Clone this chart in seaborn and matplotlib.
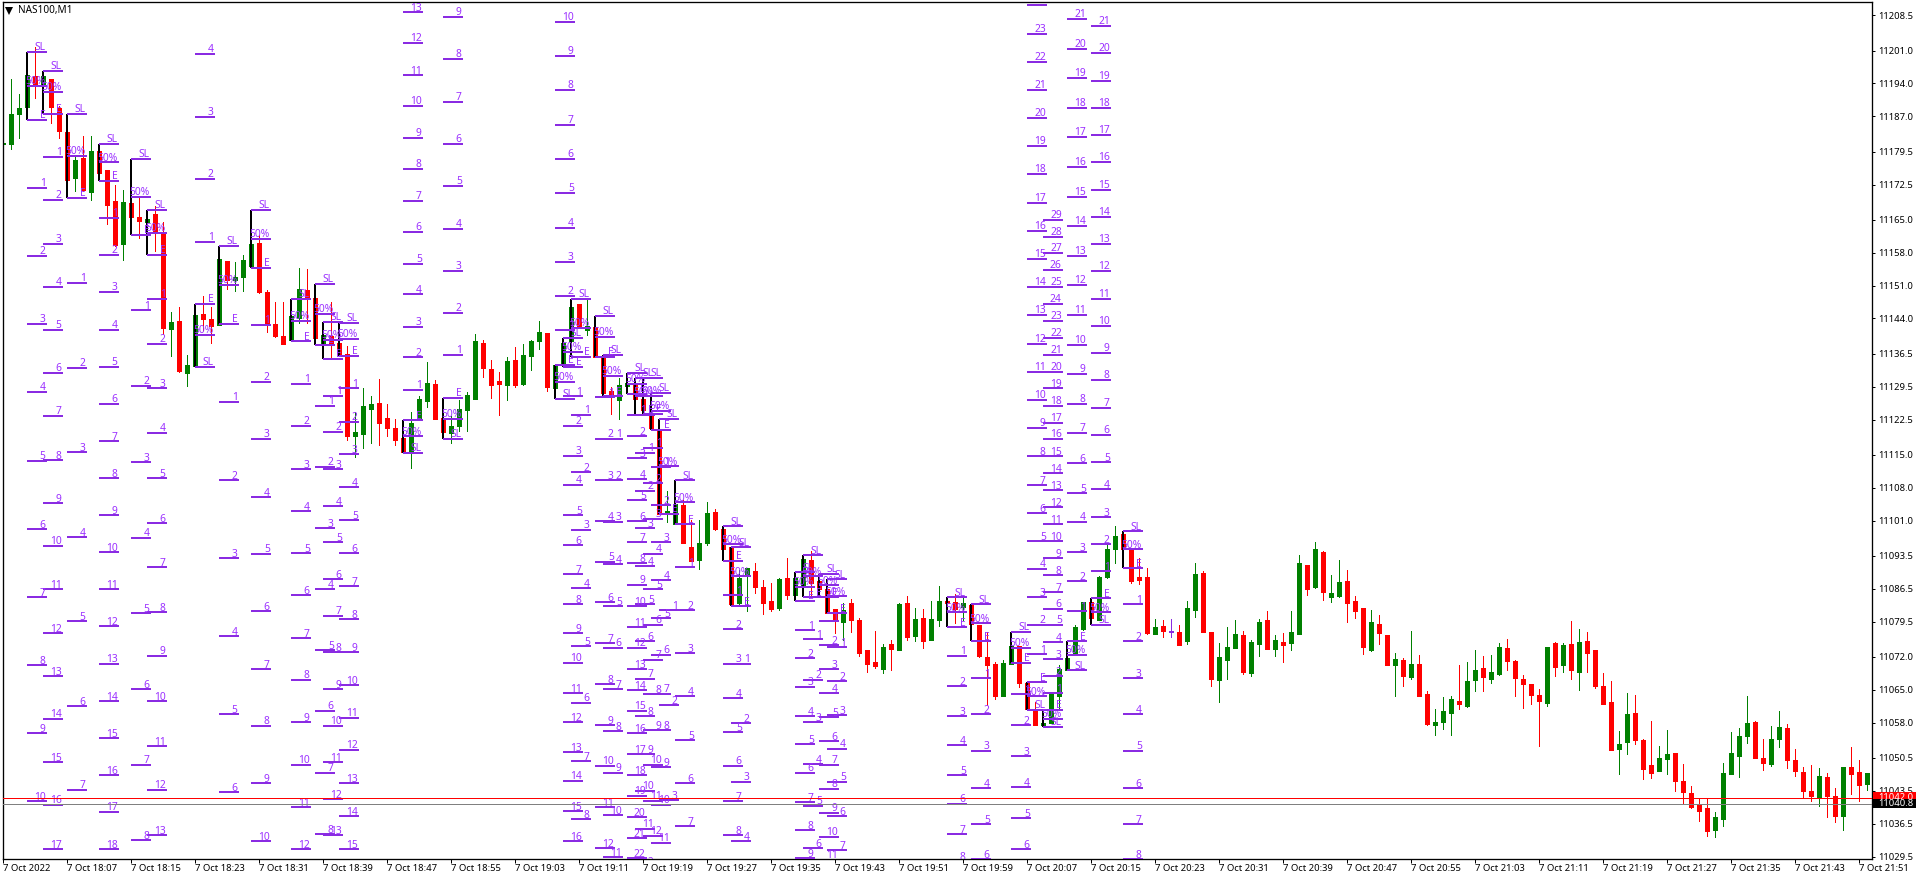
import matplotlib
matplotlib.use("Agg")
import matplotlib.pyplot as plt
from matplotlib.patches import Rectangle
import pandas as pd
import seaborn as sns

# ---------- candles (prices) ----------
highs = [
11183.8,11194.9,11191.8,11195.8,11201.7,11195.6,11195.0,11189.2,11183.7,11178.6,
11182.9,11182.9,11179.7,11175.6,11172.4,11171.4,11168.6,11169.7,11165.2,11168.0,
11164.6,11145.4,11146.5,11136.3,11144.8,11148.8,11146.5,11156.7,11156.3,11156.1,
11157.6,11159.9,11161.8,11150.1,11147.4,11147.4,11144.6,11154.8,11154.6,11148.4,
11140.5,11147.6,11138.8,11138.2,11124.2,11129.3,11127.6,11131.2,11125.7,11122.7,
11118.6,11124.2,11127.6,11134.8,11131.0,11122.9,11123.3,11126.7,11128.4,11140.8,
11139.5,11135.2,11132.7,11135.7,11138.0,11138.6,11139.5,11143.5,11141.0,11134.0,
11138.8,11146.5,11147.1,11148.2,11142.2,11136.1,11129.5,11131.4,11130.3,11129.9,
11126.9,11123.5,11120.3,11107.3,11104.5,11105.3,11101.1,11101.1,11104.9,11103.4,
11099.2,11095.3,11090.4,11090.9,11091.9,11088.3,11087.7,11088.7,11093.0,11088.7,
11092.8,11094.5,11088.1,11086.4,11082.2,11083.4,11084.3,11080.2,11073.4,11077.5,
11074.7,11075.6,11083.4,11084.9,11082.4,11082.2,11083.9,11087.0,11083.9,11085.3,
11084.8,11083.0,11078.8,11077.3,11071.0,11071.3,11074.3,11074.3,11066.4,11062.4,
11057.9,11064.1,11070.2,11071.7,11078.8,11083.6,11083.6,11089.2,11095.8,11099.8,
11098.1,11094.9,11093.0,11090.9,11080.0,11079.8,11080.0,11078.8,11083.9,11091.9,
11090.2,11077.3,11074.9,11078.3,11079.8,11077.5,11075.6,11080.0,11081.7,11076.6,
11077.0,11081.7,11093.6,11091.5,11096.4,11094.5,11089.4,11092.6,11090.4,11084.9,
11082.4,11081.9,11080.9,11076.6,11072.8,11071.7,11077.5,11072.4,11064.7,11060.9,
11063.4,11063.6,11070.2,11070.9,11073.4,11072.2,11072.4,11074.9,11075.8,11071.3,
11068.1,11066.2,11065.1,11074.1,11075.1,11074.9,11079.6,11077.9,11077.3,11073.4,
11068.5,11066.8,11056.2,11064.3,11063.9,11054.5,11058.3,11053.0,11056.4,11051.5,
11049.2,11044.5,11042.0,11042.0,11039.0,11049.4,11056.0,11056.8,11063.6,11058.3,
11054.5,11057.3,11060.5,11057.7,11052.4,11048.5,11049.0,11048.3,11047.3,11044.1,
11048.5,11052.8,11050.0,11047.3]
body_tops = [
11181.4,11187.5,11188.8,11195.8,11195.6,11195.6,11195.0,11188.8,11183.7,11177.7,
11178.2,11179.7,11179.7,11175.6,11169.0,11168.8,11168.6,11165.6,11165.2,11166.3,
11162.5,11143.3,11143.5,11134.2,11144.8,11145.0,11143.9,11156.7,11156.3,11152.9,
11156.5,11159.9,11160.1,11149.7,11142.9,11140.3,11144.6,11150.3,11150.1,11148.4,
11140.5,11140.3,11138.8,11136.5,11119.9,11125.4,11125.7,11126.1,11122.9,11120.8,
11118.6,11121.8,11126.9,11130.3,11130.1,11122.9,11121.2,11124.8,11127.8,11139.3,
11138.8,11133.3,11130.8,11135.0,11135.2,11136.3,11139.3,11141.2,11141.0,11134.0,
11138.8,11146.5,11147.1,11142.5,11142.2,11136.1,11128.6,11129.9,11130.3,11129.9,
11126.9,11123.5,11120.3,11103.0,11104.5,11104.3,11095.3,11096.2,11102.6,11102.8,
11099.2,11095.3,11088.7,11090.9,11090.2,11086.8,11083.9,11088.5,11088.7,11088.7,
11092.8,11092.6,11088.1,11086.4,11082.2,11081.9,11083.4,11079.8,11073.4,11070.9,
11074.1,11074.7,11083.2,11083.4,11080.0,11080.2,11080.0,11083.9,11083.9,11083.6,
11083.4,11083.0,11078.8,11071.9,11070.5,11070.7,11074.3,11074.3,11066.4,11060.7,
11057.9,11064.1,11069.4,11071.7,11078.3,11083.6,11083.6,11089.0,11094.9,11097.7,
11098.1,11094.7,11089.0,11089.0,11078.3,11078.5,11077.5,11077.3,11082.4,11089.6,
11089.8,11077.3,11071.9,11074.1,11076.8,11076.6,11075.1,11079.4,11079.8,11075.6,
11075.1,11077.3,11091.9,11091.5,11094.9,11094.3,11085.6,11087.9,11088.1,11083.9,
11082.4,11079.4,11079.0,11076.6,11071.5,11071.3,11070.5,11070.5,11064.1,11058.1,
11060.5,11063.0,11062.6,11066.8,11069.2,11069.6,11068.8,11074.1,11073.9,11071.1,
11067.3,11066.2,11063.9,11074.1,11074.9,11074.5,11074.7,11075.1,11075.3,11073.4,
11065.8,11062.4,11053.4,11059.8,11060.0,11054.3,11049.0,11050.5,11051.3,11051.5,
11045.6,11043.0,11040.5,11039.8,11037.9,11047.3,11051.5,11055.1,11057.9,11058.1,
11050.5,11054.5,11057.1,11056.8,11050.0,11047.5,11043.4,11046.6,11046.4,11042.4,
11048.5,11048.5,11047.5,11047.3]
body_bottoms = [
11181.2,11181.2,11187.5,11189.0,11193.9,11193.5,11189.0,11183.9,11173.5,11173.9,
11171.4,11171.0,11175.0,11168.2,11159.7,11159.9,11165.6,11164.8,11164.6,11162.5,
11142.0,11141.8,11132.9,11132.5,11133.8,11143.9,11142.5,11142.7,11152.2,11152.2,
11152.9,11155.2,11149.7,11142.9,11140.3,11138.6,11139.5,11144.2,11148.2,11139.9,
11138.8,11138.8,11136.5,11118.9,11118.9,11119.5,11124.8,11121.8,11120.8,11118.2,
11115.5,11115.5,11122.3,11126.5,11122.7,11119.9,11119.7,11121.2,11124.6,11126.9,
11133.5,11129.9,11130.1,11129.9,11129.9,11130.1,11136.1,11139.3,11129.5,11129.1,
11134.2,11139.3,11142.0,11141.6,11135.9,11128.2,11127.4,11126.7,11129.7,11126.9,
11124.6,11120.6,11102.3,11102.4,11100.2,11096.2,11092.4,11092.6,11096.2,11099.2,
11094.9,11083.2,11083.4,11089.4,11086.8,11083.4,11082.2,11082.4,11085.1,11085.1,
11086.8,11087.7,11086.4,11081.3,11079.6,11079.4,11079.8,11072.8,11070.5,11070.0,
11069.4,11073.6,11073.4,11076.2,11076.4,11075.3,11075.6,11079.8,11083.4,11082.2,
11082.6,11079.1,11072.2,11070.2,11063.6,11063.6,11070.5,11066.4,11060.9,11057.5,
11057.5,11057.9,11063.6,11069.2,11072.4,11077.9,11080.2,11079.8,11089.0,11094.9,
11094.9,11088.1,11088.3,11077.0,11076.8,11077.5,11077.3,11074.5,11075.3,11081.9,
11077.3,11067.3,11067.1,11071.3,11073.9,11068.8,11068.5,11074.7,11073.6,11073.6,
11074.5,11074.9,11076.8,11086.4,11086.8,11085.8,11084.7,11084.9,11083.4,11081.7,
11074.1,11073.4,11077.0,11070.2,11070.2,11067.9,11067.7,11063.6,11057.7,11057.5,
11058.1,11060.0,11061.9,11061.5,11067.1,11067.7,11067.3,11068.3,11071.1,11067.5,
11066.2,11063.9,11062.6,11062.2,11069.8,11070.2,11069.2,11068.8,11072.8,11065.8,
11061.9,11052.2,11052.4,11053.9,11054.3,11048.1,11047.3,11047.7,11050.2,11045.6,
11043.2,11040.0,11039.2,11034.9,11035.1,11037.5,11047.1,11050.9,11055.1,11050.5,
11049.4,11049.2,11054.5,11050.0,11047.7,11043.4,11042.4,11042.2,11042.4,11038.1,
11038.1,11047.1,11044.7,11044.9]
lows = [
11176.7,11180.1,11182.5,11189.0,11191.0,11193.5,11185.6,11182.4,11173.5,11171.2,
11171.2,11169.3,11175.0,11164.2,11159.5,11156.5,11165.6,11161.2,11158.6,11158.4,
11140.8,11136.1,11132.7,11129.7,11133.8,11141.6,11138.8,11142.7,11150.3,11149.9,
11149.9,11155.2,11149.5,11141.2,11140.1,11138.6,11139.5,11143.1,11143.1,11139.9,
11138.8,11135.7,11136.5,11118.2,11114.5,11116.4,11117.5,11117.1,11118.9,11117.1,
11115.5,11112.2,11122.3,11125.2,11122.7,11119.9,11117.6,11120.1,11120.1,11126.9,
11131.6,11127.1,11123.5,11126.7,11129.5,11129.9,11133.1,11137.6,11128.6,11129.1,
11134.2,11139.3,11142.0,11140.5,11135.9,11128.2,11123.7,11122.7,11129.7,11126.9,
11124.6,11120.6,11102.3,11100.7,11100.2,11096.2,11092.4,11090.7,11095.8,11099.0,
11094.9,11083.2,11083.0,11081.7,11085.6,11081.1,11081.7,11081.9,11084.3,11085.1,
11086.8,11085.1,11086.4,11081.3,11077.0,11075.6,11077.3,11072.2,11068.8,11069.6,
11068.5,11069.2,11073.4,11075.6,11075.3,11073.9,11075.6,11078.5,11083.4,11079.2,
11079.8,11079.1,11071.9,11061.7,11063.0,11063.6,11070.5,11065.6,11060.9,11057.5,
11057.5,11057.9,11060.7,11069.2,11072.4,11077.7,11080.2,11079.8,11088.7,11091.9,
11094.9,11087.7,11087.5,11076.8,11076.8,11076.2,11076.2,11074.5,11074.7,11080.5,
11077.3,11065.8,11062.4,11067.3,11073.9,11068.3,11067.9,11072.2,11073.6,11072.2,
11070.9,11073.4,11076.8,11085.1,11086.6,11084.1,11083.6,11084.7,11079.4,11080.2,
11072.6,11073.2,11074.7,11070.2,11063.6,11065.8,11067.3,11063.6,11057.5,11055.4,
11056.6,11055.4,11060.9,11061.3,11064.7,11064.7,11066.4,11068.1,11069.2,11063.6,
11061.1,11061.9,11053.0,11061.5,11067.9,11068.8,11067.3,11064.9,11068.8,11065.4,
11061.9,11052.2,11047.1,11051.3,11053.4,11046.0,11046.2,11047.7,11047.1,11043.4,
11040.9,11039.8,11037.1,11033.9,11033.7,11036.0,11047.1,11046.4,11053.7,11050.5,
11047.9,11048.8,11052.8,11048.3,11046.6,11042.2,11041.3,11040.3,11037.9,11036.8,
11035.1,11042.8,11041.3,11043.7]
moves = ("ggggrgrrrg" "rgrrrgrrgr" "rgrggrrgrg" "ggrrrrggrr" "grrrgggrrr"
         "rgggrrgggg" "rrrgrgggrg" "ggrgrrrggr" "rrrggrrggr" "rrggrrrgrg"
         "grrrrgrrrr" "grgrgrggrr" "grrrrggrrr" "ggggggrggg" "rrrrgrdrgg"
         "rrgggrggrg" "rggrgrggrr" "rgrrgrgrrg" "ggrggrggrr" "rrrgrgrgrr"
         "rrggrrrggr" "rrrrgggggr" "rggrrrrgrr" "grrg")

# ---------- trade setups: first candle, SL, 50%, E, numbered targets ----------
setup_a = (3, 11200.8, 11193.5, 11186.3, [11171.8,11157.3,11142.9,11128.4,11113.7,11099.2,11084.7,11070.2,11055.8,11041.3])
setup_b = (5, 11196.7, 11192.2, 11187.6, [11178.4,11169.3,11159.9,11150.8,11141.6,11132.5,11123.3,11113.8,11104.7,11095.6,11086.4,11077.0,11067.9,11058.8,11049.6,11040.5,11031.1])
setup_c = (8, 11187.6, 11178.6, 11169.7, [11151.6,11133.5,11115.5,11097.5,11079.6,11061.5,11043.7])
setup_d = (12, 11181.2, 11177.2, 11173.3, [11165.4,11157.6,11149.7,11141.6,11133.7,11125.9,11117.9,11110.0,11102.1,11094.3,11086.4,11078.5,11070.5,11062.6,11054.7,11046.8,11039.0,11031.1])
setup_e = (16, 11178.0, 11169.9, 11161.8, [11145.7,11129.7,11113.4,11097.3,11081.3,11065.1,11049.0,11033.0])
setup_f = (18, 11167.1, 11162.2, 11157.6, [11148.2,11138.6,11129.1,11119.7,11110.0,11100.4,11091.1,11081.5,11072.2,11062.6,11053.0,11043.7,11034.1])
setup_g = (24, 11133.7, 11140.5, 11147.1, [11160.3,11173.7,11186.9,11200.3])
setup_h = (27, 11159.5, 11151.2, 11142.9, [11126.3,11109.6,11093.0,11076.4,11059.8,11043.2])
setup_i = (31, 11167.1, 11161.0, 11154.8, [11142.7,11130.5,11118.4,11106.0,11093.9,11081.7,11069.4,11057.3,11045.1,11032.8])
setup_j = (36, 11148.2, 11143.5, 11139.1, [11130.1,11121.2,11111.9,11103.0,11094.1,11085.1,11076.0,11067.1,11058.1,11049.0,11040.0,11031.1])
setup_k = (39, 11151.4, 11145.0, 11138.4, [11125.4,11112.4,11099.4,11086.4,11073.4,11060.5,11047.3,11034.3])
setup_l = (40, 11143.3, 11139.5, 11135.4, [11127.6,11119.9,11111.9,11104.1,11096.4,11088.5,11080.7,11073.0,11065.1,11057.3,11049.6,11041.7,11034.1])
setup_m = (42, 11143.1, 11139.7, 11136.1, [11129.1,11122.0,11115.1,11108.1,11101.1,11094.1,11087.0,11080.0,11073.0,11066.0,11059.0,11052.2,11045.1,11038.1,11031.1])
setup_n = (50, 11115.4, 11118.9, 11122.3, [11128.8,11135.7,11142.2,11149.1,11155.6,11162.5,11169.0,11175.9,11182.4,11189.3,11195.8,11202.7,11209.2])
setup_o = (55, 11118.4, 11122.7, 11127.1, [11136.3,11145.2,11154.2,11163.1,11172.2,11181.2,11190.1,11199.3,11208.2])
setup_p = (69, 11126.9, 11130.5, 11134.2, [11141.6,11148.8,11156.1,11163.3,11170.7,11178.0,11185.2,11192.7,11199.9,11207.1])
setup_q = (70, 11139.9, 11136.9, 11133.7, [11127.4,11121.2,11114.8,11108.6,11102.1,11095.8,11089.6,11083.2,11077.0,11070.7,11064.3,11058.1,11051.7,11045.6,11039.2,11032.8])
setup_r = (71, 11148.2, 11142.0, 11135.9, [11123.5,11111.3,11099.0,11086.6,11074.3,11062.2,11049.8,11037.5])
setup_s = (74, 11144.6, 11140.1, 11135.9, [11127.2,11118.4,11109.6,11100.9,11092.2,11083.6,11074.9,11066.2,11057.5,11048.8,11040.0,11031.3])
setup_t = (75, 11136.3, 11131.8, 11127.4, [11118.4,11109.6,11100.7,11091.7,11082.8,11073.9,11065.1,11056.2,11047.3,11038.3,11029.4])
setup_u = (78, 11132.5, 11130.1, 11128.0, [11123.5,11118.9,11114.3,11109.8,11105.3,11100.9,11096.4,11091.9,11087.3,11082.8,11078.3,11073.9,11069.4,11064.9,11060.5,11055.8,11051.3,11046.8,11042.4,11037.9,11033.4,11029.2])
setup_v = (79, 11131.4, 11127.4, 11123.5, [11115.4,11107.3,11099.4,11091.3,11083.2,11075.3,11067.3,11059.4,11051.3,11043.5,11035.4,11027.5])
setup_w = (80, 11131.4, 11127.6, 11123.7, [11116.5,11108.9,11101.4,11093.9,11086.4,11078.8,11071.4,11064.0,11056.4,11049.0,11041.4,11033.9])
setup_x = (81, 11128.2, 11124.4, 11120.3, [11112.4,11104.3,11096.4,11088.3,11080.2,11072.4,11064.2,11056.4,11048.5,11040.5,11032.5])
setup_y = (82, 11122.7, 11112.6, 11102.4, [11081.9,11061.7,11041.5])
setup_z = (84, 11109.6, 11104.9, 11100.2, [11091.1,11081.9,11072.8,11063.6,11054.3,11045.1,11036.0])
setup_aa = (90, 11099.8, 11096.0, 11092.4, [11085.1,11077.9,11070.5,11063.2,11056.0,11048.8,11041.3,11034.1])
setup_ab = (91, 11095.3, 11089.2, 11082.8, [11070.5,11057.9,11045.4,11032.8])
setup_ac = (99, 11090.0, 11086.9, 11083.9, [11077.7,11071.7,11065.6,11059.4,11053.4,11047.3,11041.1,11035.1,11029.2])
setup_ad = (100, 11093.6, 11089.2, 11084.7, [11075.8,11067.1,11058.1,11049.2,11040.3,11031.3])
setup_ae = (102, 11089.7, 11087.2, 11084.7, [11079.6,11074.5,11069.4,11064.3,11059.2,11054.1,11049.0,11043.9,11038.8,11033.7,11028.8])
setup_af = (103, 11088.5, 11084.9, 11081.3, [11074.1,11066.8,11059.6,11052.4,11045.4,11038.1,11030.9])
setup_ag = (118, 11084.7, 11081.5, 11078.3, [11072.2,11065.8,11059.4,11053.2,11046.8,11040.7,11034.3,11028.4])
setup_ah = (121, 11083.2, 11079.2, 11075.3, [11067.5,11059.8,11052.0,11044.1,11036.4,11028.9])
setup_ai = (126, 11077.3, 11073.9, 11070.7, [11064.1,11057.5,11050.9,11044.3,11037.7,11031.1])
setup_aj = (128, 11060.7, 11063.6, 11066.6, [11072.6,11078.8,11084.7,11090.7,11096.6,11102.6,11108.5,11114.7,11120.8,11126.7,11132.7,11138.6,11144.8,11150.8,11156.7,11162.7,11168.6,11174.8,11180.7,11186.7,11192.7,11198.6,11204.6,11210.7])
setup_ak = (130, 11057.1, 11058.8, 11060.7, [11064.3,11067.9,11071.5,11075.1,11078.8,11082.2,11085.8,11089.4,11093.0,11096.6,11100.2,11103.8,11107.5,11111.1,11114.7,11118.4,11121.8,11125.4,11129.1,11132.7,11136.3,11139.9,11143.5,11147.1,11150.8,11154.4,11158.0,11161.4,11165.0])
setup_al = (133, 11069.2, 11072.4, 11075.3, [11081.7,11088.1,11094.3,11100.7,11106.8,11113.2,11119.7,11125.9,11132.2,11138.4,11144.8,11151.2,11157.3,11163.7,11169.9,11176.3,11182.7,11188.8,11195.2,11201.4,11207.8])
setup_am = (136, 11078.8, 11081.5, 11084.5, [11090.2,11096.0,11101.7,11107.7,11113.4,11119.3,11125.0,11131.0,11136.7,11142.5,11148.2,11154.2,11159.9,11165.6,11171.4,11177.3,11183.1,11188.8,11194.6,11200.5,11206.3])
setup_an = (140, 11098.7, 11094.9, 11090.9, [11083.2,11075.3,11067.5,11059.8,11052.0,11044.1,11036.4,11028.9])
setups = [setup_a, setup_b, setup_c, setup_d, setup_e, setup_f, setup_g, setup_h, setup_i,
          setup_j, setup_k, setup_l, setup_m, setup_n, setup_o, setup_p, setup_q, setup_r,
          setup_s, setup_t, setup_u, setup_v, setup_w, setup_x, setup_y, setup_z, setup_aa,
          setup_ab, setup_ac, setup_ad, setup_ae, setup_af, setup_ag, setup_ah, setup_ai,
          setup_aj, setup_ak, setup_al, setup_am, setup_an]
# a level so near the top border that the chart shows its line without a number
unlabelled_levels = [11210.7]

# ---------- axes labels ----------
price_ticks = [11208.5,11201.0,11194.0,11187.0,11179.5,11172.5,11165.0,11158.0,11151.0,11144.0,
               11136.5,11129.5,11122.5,11115.0,11108.0,11101.0,11093.5,11086.5,11079.5,11072.0,
               11065.0,11058.0,11050.5,11043.5,11036.5,11029.5]
time_labels = ["7 Oct 2022","7 Oct 18:07","7 Oct 18:15","7 Oct 18:23","7 Oct 18:31","7 Oct 18:39",
               "7 Oct 18:47","7 Oct 18:55","7 Oct 19:03","7 Oct 19:11","7 Oct 19:19","7 Oct 19:27",
               "7 Oct 19:35","7 Oct 19:43","7 Oct 19:51","7 Oct 19:59","7 Oct 20:07","7 Oct 20:15",
               "7 Oct 20:23","7 Oct 20:31","7 Oct 20:39","7 Oct 20:47","7 Oct 20:55","7 Oct 21:03",
               "7 Oct 21:11","7 Oct 21:19","7 Oct 21:27","7 Oct 21:35","7 Oct 21:43","7 Oct 21:51"]
ask_price = 11042.0
bid_price = 11040.8
chart_title = "NAS100,M1"

# ---------- style ----------
W, H = 1918, 880
PX = 0.72
GREEN, RED, DOJI = "#008000", "#FF0000", "#8A2BE2"
LEVEL, LABEL = "#8A2BE2", "#9B30FF"
FONT = "Noto Sans"
sns.set_theme(style="white", rc={"axes.edgecolor": "black", "axes.linewidth": 0.95,
                                 "font.family": FONT})

fig = plt.figure(figsize=(W / 100, H / 100), dpi=100, facecolor="white")
ax = fig.add_axes([2.7 / W, 1 - 859.3 / H, (1872.3 - 2.7) / W, (859.3 - 2.3) / H])
palette = {"g": GREEN, "r": RED, "d": DOJI}

wicks = pd.DataFrame({"i": list(range(len(highs))) * 2, "price": highs + lows, "move": list(moves) * 2})
bodies = pd.DataFrame({"i": list(range(len(highs))) * 2, "price": body_tops + body_bottoms, "move": list(moves) * 2})
sns.lineplot(data=wicks, x="i", y="price", units="i", hue="move", palette=palette, estimator=None,
             sort=False, legend=False, ax=ax, lw=1.0 * PX, zorder=2, solid_capstyle="butt", antialiased=False)
sns.lineplot(data=bodies, x="i", y="price", units="i", hue="move", palette=palette, estimator=None,
             sort=False, legend=False, ax=ax, lw=5.0 * PX, zorder=2, solid_capstyle="butt", antialiased=False)

LEVEL_LEN = 2.42
BAR_SHIFT = -0.08
bar_rows, level_rows, label_rows = [], [], []
uid = 0
for start, sl, mid, entry, targets in setups:
    bar_rows += [(uid, start + BAR_SHIFT, sl), (uid, start + BAR_SHIFT, entry)]
    names = ["SL", "50%", "E"] + [str(n + 1) for n in range(len(targets))]
    for name, price in zip(names, [sl, mid, entry] + targets):
        uid += 1
        level_rows += [(uid, start, price), (uid, start + LEVEL_LEN, price)]
        if price not in unlabelled_levels:
            label_rows.append((name, start + LEVEL_LEN, price))
    uid += 1
bars = pd.DataFrame(bar_rows, columns=["id", "x", "price"])
levels = pd.DataFrame(level_rows, columns=["id", "x", "price"])

sns.lineplot(data=bars, x="x", y="price", units="id", estimator=None, sort=False, color="black",
             ax=ax, lw=2.0 * PX, zorder=3, solid_capstyle="butt", antialiased=False)
sns.lineplot(data=levels, x="x", y="price", units="id", estimator=None, sort=False, color=LEVEL,
             ax=ax, lw=2.0 * PX, zorder=4, solid_capstyle="butt", antialiased=False)

for name, x, price in label_rows:
    ax.annotate(name, xy=(x, price), xytext=(-1, 1.5), textcoords="offset pixels", ha="right",
                va="baseline", color=LABEL, fontsize=7.4, family=FONT, annotation_clip=False,
                clip_on=True, zorder=5)

ax.axhline(ask_price, color=RED, lw=1.0 * PX, zorder=6, antialiased=False)
ax.axhline(bid_price, color="#808080", lw=1.0 * PX, zorder=6, antialiased=False)

ax.set_xlim(-0.075, 233.6)
ax.set_ylim(11028.93, 11211.27)
ax.set_xlabel("")
ax.set_ylabel("")
for side in ["left", "right", "top", "bottom"]:
    ax.spines[side].set_visible(True)
    ax.spines[side].set_color("black")

ax.yaxis.tick_right()
ax.set_yticks(price_ticks)
ax.set_yticklabels([f"{p:.1f}" for p in price_ticks])
ax.set_xticks(list(range(0, 8 * len(time_labels), 8)))
ax.set_xticklabels(time_labels, ha="left")
ax.tick_params(axis="y", which="major", right=True, left=False, length=2.2, width=0.72, pad=2.2,
               labelsize=6.8, labelcolor="black", color="black")
ax.tick_params(axis="x", which="major", bottom=True, length=2.9, width=0.72, pad=0.8,
               labelsize=6.8, labelcolor="black", color="black")
for t in ax.get_xticklabels() + ax.get_yticklabels():
    t.set_family(FONT)

# current price tags on the right scale
ytrans = ax.get_yaxis_transform()
tag_w = 43 / 1869.6
ax.add_patch(Rectangle((1.0003, ask_price - 1.27), tag_w, 2.54, transform=ytrans, clip_on=False,
                       fc=RED, ec="none", zorder=7))
ax.annotate(f"{ask_price:.1f}", xy=(1, ask_price), xycoords=ytrans, xytext=(6, 0), textcoords="offset pixels",
            va="center", ha="left", color="white", fontsize=6.8, family=FONT, annotation_clip=False, zorder=8)
ax.add_patch(Rectangle((1.0003, bid_price - 1.05), tag_w, 2.1, transform=ytrans, clip_on=False,
                       fc="black", ec="none", zorder=9))
ax.annotate(f"{bid_price:.1f}", xy=(1, bid_price), xycoords=ytrans, xytext=(6, 0), textcoords="offset pixels",
            va="center", ha="left", color="white", fontsize=6.8, family=FONT, annotation_clip=False, zorder=10)

# chart title with its drop-down triangle
ax.plot([6.6 / 1869.6], [1 - 8.7 / 857], marker="v", ms=5.2, color="black", mew=0,
        transform=ax.transAxes, zorder=8, clip_on=False)
ax.annotate(chart_title, xy=(0, 1), xycoords="axes fraction", xytext=(15.5, -8.4), textcoords="offset pixels",
            ha="left", va="center", color="black", fontsize=7.2, family=FONT, zorder=8)

fig.savefig("out.png", dpi=100, facecolor="white")
